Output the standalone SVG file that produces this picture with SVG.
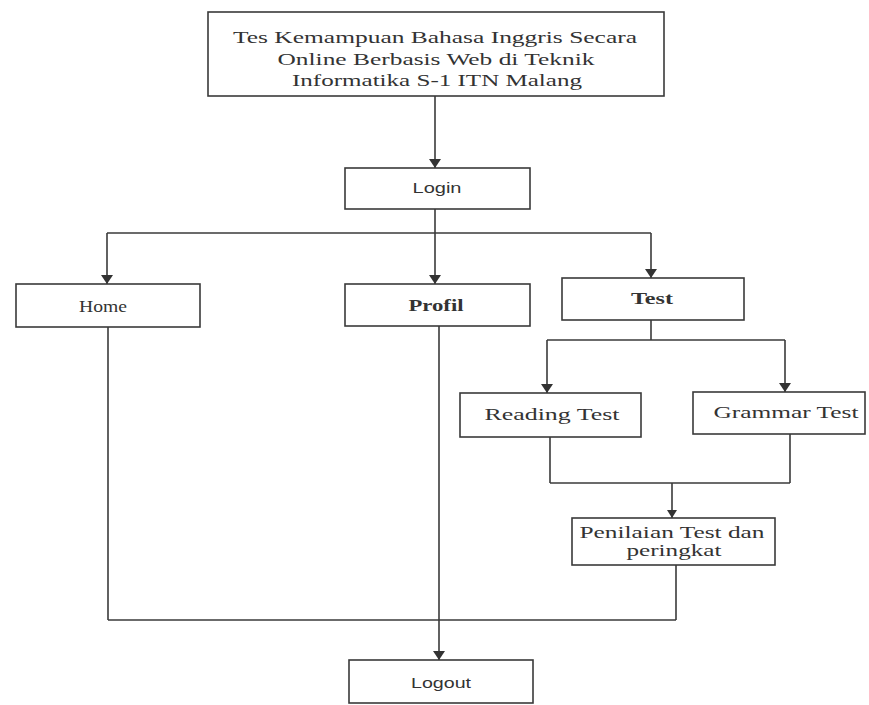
<svg xmlns="http://www.w3.org/2000/svg" width="869" height="705" viewBox="0 0 869 705">
<style>
.box{fill:#fff;stroke:#3a3a3a;stroke-width:1.6}
.ser{font-family:"Liberation Serif","Times New Roman",serif;font-size:17px;fill:#333;text-anchor:middle}
.sans{font-family:"Liberation Sans",Arial,sans-serif;font-size:14px;fill:#333;text-anchor:middle}
.ln{fill:none;stroke:#3a3a3a;stroke-width:1.6}
</style>
<defs>
<marker id="ah" markerUnits="userSpaceOnUse" markerWidth="12" markerHeight="10" refX="6" refY="9" orient="auto-start-reverse" viewBox="0 0 12 10">
<path d="M0,0 L12,0 L6,9 Z" fill="#333" transform="rotate(0)"/>
</marker>
</defs>
<rect width="869" height="705" fill="#fff"/>
<g id="connectors">
<path class="ln" d="M435,96 V168"/>
<path class="ln" d="M435,209 V233"/>
<path class="ln" d="M107,233 H651"/>
<path class="ln" d="M107,233 V284"/>
<path class="ln" d="M435,233 V284"/>
<path class="ln" d="M651,233 V278"/>
<path class="ln" d="M651,320 V340"/>
<path class="ln" d="M547,340 H785"/>
<path class="ln" d="M547,340 V393"/>
<path class="ln" d="M785,340 V392"/>
<path class="ln" d="M550,437 V483"/>
<path class="ln" d="M790,434 V483"/>
<path class="ln" d="M550,483 H790"/>
<path class="ln" d="M672,483 V518"/>
<path class="ln" d="M676,565 V620"/>
<path class="ln" d="M108,620 H676"/>
<path class="ln" d="M108,327 V620"/>
<path class="ln" d="M439,326 V660"/>
</g>
<g id="arrowheads" fill="#333">
<path d="M429,159 L441,159 L435,168 Z"/>
<path d="M101,275 L113,275 L107,284 Z"/>
<path d="M429,275 L441,275 L435,284 Z"/>
<path d="M645,269 L657,269 L651,278 Z"/>
<path d="M541,384 L553,384 L547,393 Z"/>
<path d="M779,383 L791,383 L785,392 Z"/>
<path d="M667,510 L677,510 L672,518 Z"/>
<path d="M433,651 L445,651 L439,660 Z"/>
</g>
<g id="title">
<rect class="box" x="208" y="12" width="456" height="84"/>
<text class="ser" x="435" y="43" textLength="404" lengthAdjust="spacingAndGlyphs">Tes Kemampuan Bahasa Inggris Secara</text>
<text class="ser" x="436" y="65" textLength="317" lengthAdjust="spacingAndGlyphs">Online Berbasis Web di Teknik</text>
<text class="ser" x="437" y="86" textLength="290" lengthAdjust="spacingAndGlyphs">Informatika S-1 ITN Malang</text>
</g>
<g id="login">
<rect class="box" x="345" y="168" width="185" height="41"/>
<text class="sans" x="437" y="193" textLength="49" lengthAdjust="spacingAndGlyphs">Login</text>
</g>
<g id="home">
<rect class="box" x="16" y="284" width="184" height="43"/>
<text class="ser" x="103" y="312" textLength="48" lengthAdjust="spacingAndGlyphs">Home</text>
</g>
<g id="profil">
<rect class="box" x="345" y="284" width="185" height="42"/>
<text class="ser" x="436" y="311" textLength="55" lengthAdjust="spacingAndGlyphs" font-weight="bold">Profil</text>
</g>
<g id="test">
<rect class="box" x="562" y="278" width="182" height="42"/>
<text class="ser" x="652" y="304" textLength="42" lengthAdjust="spacingAndGlyphs" font-weight="bold">Test</text>
</g>
<g id="reading">
<rect class="box" x="460" y="393" width="181" height="44"/>
<text class="ser" x="552" y="420" textLength="135" lengthAdjust="spacingAndGlyphs">Reading Test</text>
</g>
<g id="grammar">
<rect class="box" x="693" y="392" width="172" height="42"/>
<text class="ser" x="786" y="418" textLength="145" lengthAdjust="spacingAndGlyphs">Grammar Test</text>
</g>
<g id="penilaian">
<rect class="box" x="572" y="518" width="203" height="47"/>
<text class="ser" x="672" y="538" textLength="185" lengthAdjust="spacingAndGlyphs">Penilaian Test dan</text>
<text class="ser" x="674" y="556" textLength="95" lengthAdjust="spacingAndGlyphs">peringkat</text>
</g>
<g id="logout">
<rect class="box" x="349" y="660" width="184" height="43"/>
<text class="sans" x="441" y="688" textLength="60" lengthAdjust="spacingAndGlyphs">Logout</text>
</g>
</svg>
